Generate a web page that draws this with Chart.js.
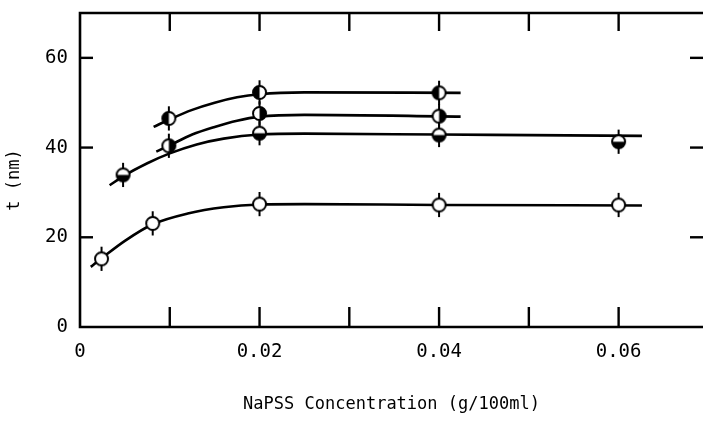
<!DOCTYPE html>
<html><head><meta charset="utf-8">
<script src="https://cdn.jsdelivr.net/npm/chart.js@4/dist/chart.umd.min.js"></script>
<style>
html,body{margin:0;padding:0;background:#fff;overflow:hidden;width:703px;height:428px;}
canvas{display:block;}
</style></head>
<body><canvas id="c" width="703" height="428"></canvas>
<script>
// ---- data ----
const openX = [0.0024, 0.0081, 0.020, 0.040, 0.060];
const openY = [15.2, 23.1, 27.4, 27.2, 27.2];
const bottomHalfX = [0.0048, 0.020, 0.040, 0.060];
const bottomHalfY = [33.9, 43.2, 42.8, 41.3];
const rightHalfX = [0.0099, 0.020, 0.040];
const rightHalfY = [40.4, 47.6, 47.0];
const leftHalfX = [0.0099, 0.020, 0.040];
const leftHalfY = [46.5, 52.3, 52.2];
const errHalf = 2.7;

// fitted curves
const curveOpenX = [0.0012, 0.0024, 0.005, 0.0081, 0.012, 0.016, 0.020, 0.025, 0.040, 0.0626];
const curveOpenY = [13.4, 15.3, 19.2, 22.9, 25.3, 26.7, 27.3, 27.4, 27.2, 27.1];
const curveBottomX = [0.0033, 0.0048, 0.0075, 0.010, 0.013, 0.016, 0.020, 0.025, 0.040, 0.0626];
const curveBottomY = [31.6, 33.6, 36.5, 38.7, 40.7, 42.0, 42.9, 43.1, 42.9, 42.6];
const curveRightX = [0.0085, 0.0099, 0.0125, 0.015, 0.0175, 0.020, 0.025, 0.0424];
const curveRightY = [39.1, 40.4, 42.9, 44.6, 46.0, 46.9, 47.3, 46.9];
const curveLeftX = [0.0082, 0.0099, 0.0125, 0.015, 0.0175, 0.020, 0.025, 0.0424];
const curveLeftY = [44.6, 46.2, 48.4, 50.0, 51.2, 51.9, 52.3, 52.2];

const xTickMarks = [0.01, 0.02, 0.03, 0.04, 0.05, 0.06];
const xTickLabelValues = [0, 0.02, 0.04, 0.06];
const xTickLabels = ['0', '0.02', '0.04', '0.06'];
const yTickValues = [0, 20, 40, 60];
const yTickLabels = ['0', '20', '40', '60'];
// the plotted frame is cut off at the right edge of the picture
const xMin = 0, xMax = 0.0694, yMin = 0, yMax = 70;
const xTitle = 'NaPSS Concentration (g/100ml)';
const yTitle = 't (nm)';

const pts = (xs, ys) => xs.map((x, i) => ({x: x, y: ys[i]}));

function marker(kind) {
  const s = 17, c = s / 2, r = 6.5;
  const cv = document.createElement('canvas');
  cv.width = s; cv.height = s;
  const g = cv.getContext('2d');
  g.beginPath(); g.arc(c, c, r, 0, Math.PI * 2); g.fillStyle = '#fff'; g.fill();
  let a0 = null, a1 = null;
  if (kind === 'bottom') { a0 = 0; a1 = Math.PI; }
  if (kind === 'right') { a0 = -Math.PI / 2; a1 = Math.PI / 2; }
  if (kind === 'left') { a0 = Math.PI / 2; a1 = Math.PI * 1.5; }
  if (a0 !== null) {
    g.beginPath(); g.moveTo(c, c); g.arc(c, c, r, a0, a1); g.closePath();
    g.fillStyle = '#000'; g.fill();
  }
  g.beginPath(); g.arc(c, c, r, 0, Math.PI * 2);
  g.lineWidth = 2; g.strokeStyle = '#000'; g.stroke();
  return cv;
}

const curveDs = (xs, ys) => ({
  type: 'line', data: pts(xs, ys), borderColor: '#000', borderWidth: 2.6,
  pointRadius: 0, fill: false, cubicInterpolationMode: 'monotone', order: 2
});
const markDs = (xs, ys, kind) => ({
  type: 'scatter', data: pts(xs, ys), pointStyle: marker(kind), pointRadius: 7,
  showLine: false, order: 0, errBars: true
});

const errPlugin = {
  id: 'errbars',
  beforeDatasetsDraw(chart) {
    const ctx = chart.ctx, xs = chart.scales.x, ys = chart.scales.y;
    ctx.save(); ctx.strokeStyle = '#000'; ctx.lineWidth = 2;
    chart.data.datasets.forEach(ds => {
      if (!ds.errBars) return;
      ds.data.forEach(p => {
        const px = xs.getPixelForValue(p.x);
        ctx.beginPath();
        ctx.moveTo(px, ys.getPixelForValue(p.y + errHalf));
        ctx.lineTo(px, ys.getPixelForValue(p.y - errHalf));
        ctx.stroke();
      });
    });
    ctx.restore();
  }
};

const framePlugin = {
  id: 'frame',
  afterDraw(chart) {
    const ctx = chart.ctx, a = chart.chartArea, xs = chart.scales.x, ys = chart.scales.y;
    const right = xs.getPixelForValue(xMax);
    ctx.save(); ctx.strokeStyle = '#000'; ctx.lineWidth = 2.6; ctx.lineCap = 'butt';
    ctx.beginPath();
    ctx.moveTo(right, a.top); ctx.lineTo(a.left, a.top); ctx.lineTo(a.left, a.bottom);
    ctx.lineTo(right, a.bottom);
    ctx.stroke();
    ctx.lineWidth = 2.4;
    xTickMarks.forEach(v => {
      const px = xs.getPixelForValue(v);
      ctx.beginPath(); ctx.moveTo(px, a.bottom); ctx.lineTo(px, a.bottom - 20); ctx.stroke();
      ctx.beginPath(); ctx.moveTo(px, a.top); ctx.lineTo(px, a.top + 18); ctx.stroke();
    });
    yTickValues.filter(v => v > yMin).forEach(v => {
      const py = ys.getPixelForValue(v);
      ctx.beginPath(); ctx.moveTo(a.left, py); ctx.lineTo(a.left + 13, py); ctx.stroke();
      ctx.beginPath(); ctx.moveTo(right, py); ctx.lineTo(right - 13, py); ctx.stroke();
    });
    // y axis title
    ctx.fillStyle = '#000';
    ctx.font = '17px "DejaVu Sans Mono"';
    ctx.textAlign = 'center'; ctx.textBaseline = 'middle';
    ctx.translate(15, (a.top + a.bottom) / 2 + 10);
    ctx.rotate(-Math.PI / 2);
    ctx.fillText(yTitle, 0, 0);
    ctx.restore();
  }
};

new Chart(document.getElementById('c'), {
  data: {
    datasets: [
      curveDs(curveOpenX, curveOpenY),
      curveDs(curveBottomX, curveBottomY),
      curveDs(curveRightX, curveRightY),
      curveDs(curveLeftX, curveLeftY),
      markDs(openX, openY, 'open'),
      markDs(bottomHalfX, bottomHalfY, 'bottom'),
      markDs(rightHalfX, rightHalfY, 'right'),
      markDs(leftHalfX, leftHalfY, 'left')
    ]
  },
  options: {
    responsive: false, animation: false, devicePixelRatio: 1,
    layout: {autoPadding: false, padding: {top: 13, right: 0, left: 0, bottom: 0}},
    plugins: {legend: {display: false}, tooltip: {enabled: false}},
    scales: {
      x: {
        type: 'linear', min: xMin, max: xMax,
        grid: {display: false, drawTicks: false},
        border: {display: false},
        afterBuildTicks: s => { s.ticks = xTickLabelValues.map(v => ({value: v})); },
        afterFit: s => { s.height = 101; s.paddingLeft = 0; s.paddingRight = 0; },
        ticks: {
          padding: 14, color: '#000', maxRotation: 0, autoSkip: false,
          font: {family: 'DejaVu Sans Mono', size: 19},
          callback: (v) => { const i = xTickLabelValues.indexOf(v); return i >= 0 ? xTickLabels[i] : ''; }
        },
        title: {display: true, text: xTitle, color: '#000',
          font: {family: 'DejaVu Sans Mono', size: 17}, padding: {top: 0, bottom: 13}}
      },
      y: {
        type: 'linear', min: yMin, max: yMax,
        grid: {display: false, drawTicks: false},
        border: {display: false},
        afterBuildTicks: s => { s.ticks = yTickValues.map(v => ({value: v})); },
        afterFit: s => { s.width = 80; s.paddingTop = 0; s.paddingBottom = 0; },
        ticks: {
          padding: 12, color: '#000', autoSkip: false,
          font: {family: 'DejaVu Sans Mono', size: 19},
          callback: (v) => { const i = yTickValues.indexOf(v); return i >= 0 ? yTickLabels[i] : ''; }
        },
        title: {display: false, text: yTitle}
      }
    }
  },
  plugins: [errPlugin, framePlugin]
});
</script>
</body></html>
